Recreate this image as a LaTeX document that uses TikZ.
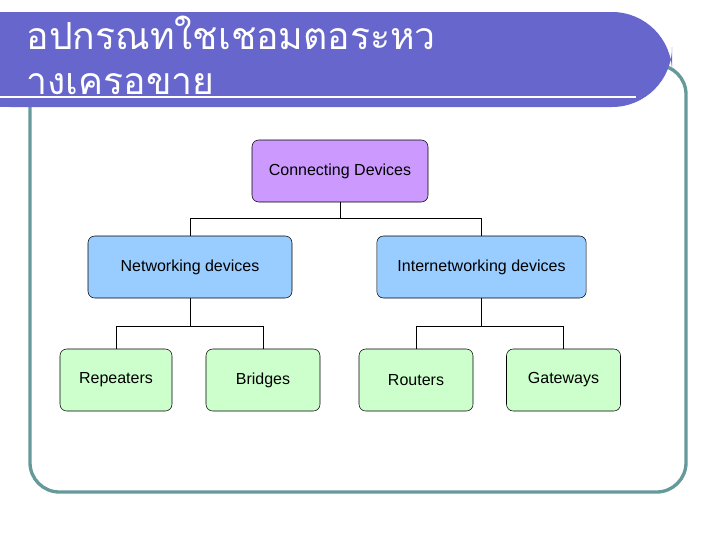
\documentclass[tikz,border=0pt]{standalone}
\usepackage{fontspec}
\setmainfont{Liberation Sans}
\newfontfamily\thaifont[Script=Thai]{Loma}
\definecolor{bar}{HTML}{6666CC}
\definecolor{frame}{HTML}{669999}
\definecolor{top}{HTML}{CC99FF}
\definecolor{mid}{HTML}{99CCFF}
\definecolor{leaf}{HTML}{CCFFCC}
\begin{document}
\begin{tikzpicture}[x=0.75pt,y=-0.75pt,
  box/.style={draw=black,rounded corners=5pt,font=\fontsize{12}{14}\selectfont,inner sep=0pt},
  link/.style={draw=black,line width=0.5pt}]
\useasboundingbox (0,0) rectangle (720,540);
\draw[frame,line width=2.5pt,rounded corners=22pt] (30,65) rectangle (686,492);
\fill[bar,rounded corners=45pt] (-50,12) rectangle (672,107);
\fill[bar] (0,12) rectangle (60,107);
\draw[white,line width=1.5pt] (0,97) -- (636,97);
\node[anchor=west,text=white,font=\thaifont\fontsize{28}{34}\selectfont,align=left] (title) at (22,55) {อปกรณทใชเชอมตอระหว\\างเครอขาย};
\node[box,fill=top,minimum width=132pt,minimum height=46.5pt] (cd) at (340,171) {Connecting Devices};
\node[box,fill=mid,minimum width=153pt,minimum height=46.5pt] (nd) at (190,267) {Networking devices};
\node[box,fill=mid,minimum width=157pt,minimum height=46.5pt] (id) at (481.5,267) {Internetworking devices};
\node[box,fill=leaf,minimum width=84pt,minimum height=46.5pt] (rp) at (116,380) {Repeaters};
\node[box,fill=leaf,minimum width=85.5pt,minimum height=46.5pt] (br) at (263,380) {Bridges};
\node[box,fill=leaf,minimum width=85.5pt,minimum height=46.5pt] (ro) at (416,380) {Routers};
\node[box,fill=leaf,minimum width=85.5pt,minimum height=46.5pt] (gw) at (563.5,380) {Gateways};
\draw[link] (cd.south) -- ++(0,16) -| (nd.north);
\draw[link] (cd.south) -- ++(0,16) -| (id.north);
\draw[link] (nd.south) -- ++(0,28) -| (rp.north);
\draw[link] (nd.south) -- ++(0,28) -| (br.north);
\draw[link] (id.south) -- ++(0,28) -| (ro.north);
\draw[link] (id.south) -- ++(0,28) -| (gw.north);
\end{tikzpicture}
\end{document}
